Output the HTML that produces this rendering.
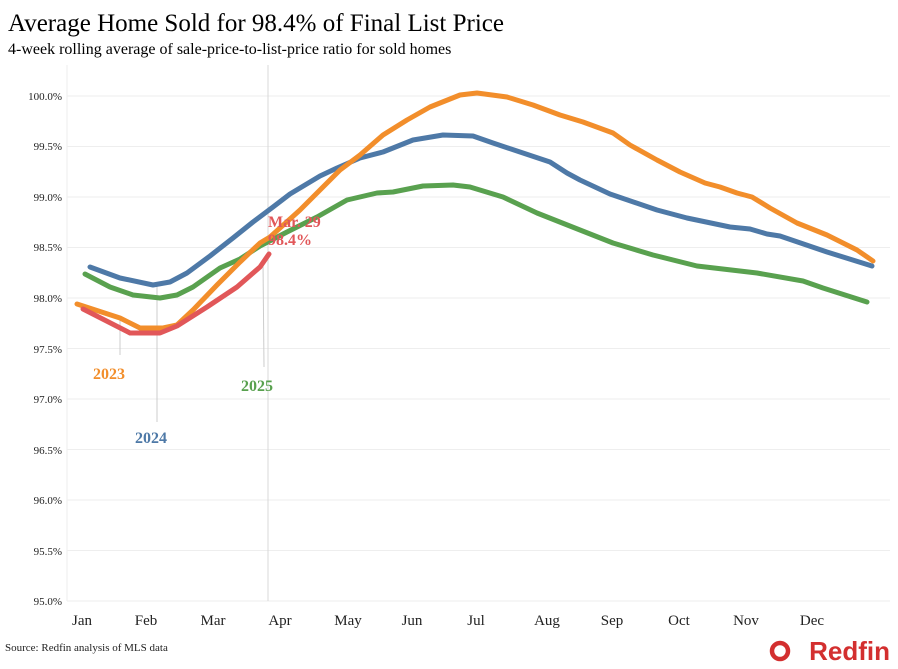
<!DOCTYPE html>
<html><head><meta charset="utf-8"><style>
body{margin:0;background:#fff;width:898px;height:669px;overflow:hidden}
svg{display:block;font-family:"Liberation Serif",serif}
</style></head><body>
<svg width="898" height="669" viewBox="0 0 898 669">
<text x="8" y="31" font-size="25" fill="#000">Average Home Sold for 98.4% of Final List Price</text>
<text x="8" y="54" font-size="16" fill="#000">4-week rolling average of sale-price-to-list-price ratio for sold homes</text>
<g stroke="#eeeeee" stroke-width="1">
<line x1="67" x2="890" y1="96" y2="96"/><line x1="67" x2="890" y1="146.5" y2="146.5"/><line x1="67" x2="890" y1="197" y2="197"/><line x1="67" x2="890" y1="247.5" y2="247.5"/><line x1="67" x2="890" y1="298" y2="298"/><line x1="67" x2="890" y1="348.5" y2="348.5"/><line x1="67" x2="890" y1="399" y2="399"/><line x1="67" x2="890" y1="449.5" y2="449.5"/><line x1="67" x2="890" y1="500" y2="500"/><line x1="67" x2="890" y1="550.5" y2="550.5"/><line x1="67" x2="890" y1="601" y2="601"/>
<line x1="67" x2="67" y1="65" y2="601"/>
</g>
<line x1="268" x2="268" y1="65" y2="601" stroke="#d8d8d8"/>
<g font-size="11" fill="#222" text-anchor="end">
<text x="62" y="100">100.0%</text><text x="62" y="150">99.5%</text><text x="62" y="201">99.0%</text><text x="62" y="251">98.5%</text><text x="62" y="302">98.0%</text><text x="62" y="353">97.5%</text><text x="62" y="403">97.0%</text><text x="62" y="454">96.5%</text><text x="62" y="504">96.0%</text><text x="62" y="555">95.5%</text><text x="62" y="605">95.0%</text>
</g>
<g font-size="15" fill="#222" text-anchor="middle">
<text x="82" y="625">Jan</text><text x="146" y="625">Feb</text><text x="213" y="625">Mar</text><text x="280" y="625">Apr</text><text x="348" y="625">May</text><text x="412" y="625">Jun</text><text x="476" y="625">Jul</text><text x="547" y="625">Aug</text><text x="612" y="625">Sep</text><text x="679" y="625">Oct</text><text x="746" y="625">Nov</text><text x="812" y="625">Dec</text>
</g>
<text x="5" y="651" font-size="11" fill="#222">Source: Redfin analysis of MLS data</text>
<text x="890" y="660" font-size="26" font-weight="bold" fill="#d32f2f" text-anchor="end" font-family="Liberation Sans,sans-serif">Redfin</text>
<circle cx="780" cy="651" r="8" fill="none" stroke="#d32f2f" stroke-width="4.5"/>
<g stroke="#ccc" stroke-width="1">
<line x1="120" y1="318" x2="120" y2="355"/><line x1="157" y1="284" x2="157" y2="422"/><line x1="263" y1="262" x2="264" y2="367"/>
</g>
<g fill="none" stroke-width="5" stroke-linejoin="round" stroke-linecap="round">
<polyline stroke="#4e79a7" points="90,267 120,278 153,285 170,282 187,273 210,256 233,238 253,222 273,207 290,194 320,176 337,168 360,158 383,152 413,140 443,135 473,136 493,143 520,152 550,162 567,173 580,180 610,194 657,210 687,218 730,227 750,229 767,234 780,236 827,252 872,266"/>
<polyline stroke="#59a14f" points="85,274 110,287 133,295 160,298 177,295 193,287 220,268 240,259 260,246 287,232 317,217 347,200 377,193 393,192 423,186 453,185 470,187 503,197 537,213 580,230 613,243 653,255 697,266 757,273 803,281 823,288 867,302"/>
<polyline stroke="#f28e2b" points="77,304 120,318 140,328 163,328 177,325 193,310 217,285 240,262 260,243 270,237 300,210 320,190 340,170 360,155 383,135 407,120 430,107 460,95 477,93 507,97 533,105 560,115 583,122 613,133 630,145 657,160 680,172 705,183 720,187 737,193 752,197 770,208 797,223 827,235 857,250 873,261"/>
<polyline stroke="#e15759" points="83,309 130,333 160,333 177,326 207,307 237,287 260,267 269,254"/>
</g>
<g font-size="16" font-weight="bold">
<text x="93" y="379" fill="#f28e2b">2023</text>
<text x="135" y="443" fill="#4e79a7">2024</text>
<text x="241" y="391" fill="#59a14f">2025</text>
<text x="268" y="227" fill="#e15759">Mar. 29</text>
<text x="268" y="245" fill="#e15759">98.4%</text>
</g>
</svg>
</body></html>
